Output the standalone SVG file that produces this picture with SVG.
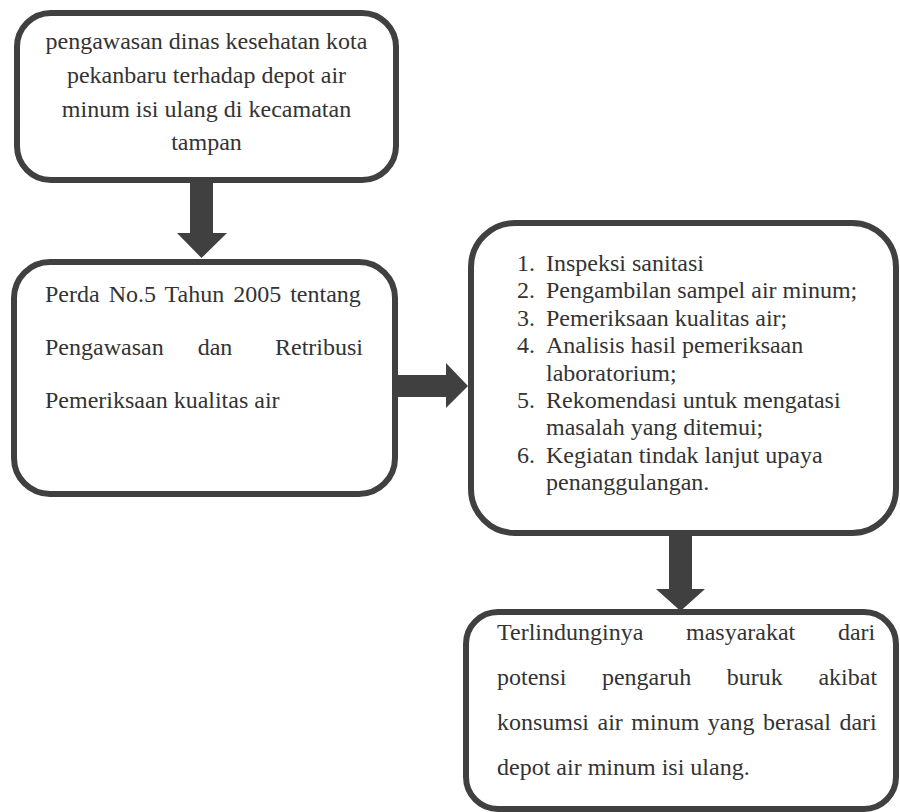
<svg xmlns="http://www.w3.org/2000/svg" width="900" height="812" viewBox="0 0 900 812">
<defs>
<style>
.box{fill:#ffffff;stroke:#404040;stroke-width:6}
.arrow{fill:#404040}
</style>
</defs>
<rect width="900" height="812" fill="#ffffff"/>
<g id="connectors">
<polygon class="arrow" points="190,182 213,182 213,233 227,233 201.5,258 177,233 190,233"/>
<polygon class="arrow" points="397,375 446,375 446,363 468,386 446,408 446,397 397,397"/>
<polygon class="arrow" points="669,534 692,534 692,589 705,589 680.5,611 656,589 669,589"/>
</g>
<g id="node1">
<rect class="box" x="17" y="13" width="379" height="167" rx="34"/>
<text x="206.5" y="49" font-family="Times New Roman, Liberation Serif, serif" font-size="24" fill="#333333" text-anchor="middle">pengawasan dinas kesehatan kota</text>
<text x="206.5" y="83" font-family="Times New Roman, Liberation Serif, serif" font-size="24" fill="#333333" text-anchor="middle">pekanbaru terhadap depot air</text>
<text x="206.5" y="117" font-family="Times New Roman, Liberation Serif, serif" font-size="24" fill="#333333" text-anchor="middle">minum isi ulang di kecamatan</text>
<text x="206.5" y="150" font-family="Times New Roman, Liberation Serif, serif" font-size="24" fill="#333333" text-anchor="middle">tampan</text>
</g>
<g id="node2">
<rect class="box" x="14" y="262" width="381" height="232" rx="36"/>
<text x="45" y="302" font-family="Times New Roman, Liberation Serif, serif" font-size="24" fill="#333333" word-spacing="3">Perda No.5 Tahun 2005 tentang</text>
<text x="45" y="355" font-family="Times New Roman, Liberation Serif, serif" font-size="24" fill="#333333">Pengawasan</text>
<text x="215" y="355" font-family="Times New Roman, Liberation Serif, serif" font-size="24" fill="#333333" text-anchor="middle">dan</text>
<text x="363" y="355" font-family="Times New Roman, Liberation Serif, serif" font-size="24" fill="#333333" text-anchor="end">Retribusi</text>
<text x="45" y="408" font-family="Times New Roman, Liberation Serif, serif" font-size="24" fill="#333333">Pemeriksaan kualitas air</text>
</g>
<g id="node3">
<rect class="box" x="471" y="223" width="425" height="310" rx="44"/>
<text x="517" y="271" font-family="Times New Roman, Liberation Serif, serif" font-size="24" fill="#333333">1.</text>
<text x="546" y="271" font-family="Times New Roman, Liberation Serif, serif" font-size="24" fill="#333333">Inspeksi sanitasi</text>
<text x="517" y="298.4" font-family="Times New Roman, Liberation Serif, serif" font-size="24" fill="#333333">2.</text>
<text x="546" y="298.4" font-family="Times New Roman, Liberation Serif, serif" font-size="24" fill="#333333">Pengambilan sampel air minum;</text>
<text x="517" y="325.8" font-family="Times New Roman, Liberation Serif, serif" font-size="24" fill="#333333">3.</text>
<text x="546" y="325.8" font-family="Times New Roman, Liberation Serif, serif" font-size="24" fill="#333333">Pemeriksaan kualitas air;</text>
<text x="517" y="353.2" font-family="Times New Roman, Liberation Serif, serif" font-size="24" fill="#333333">4.</text>
<text x="546" y="353.2" font-family="Times New Roman, Liberation Serif, serif" font-size="24" fill="#333333">Analisis hasil pemeriksaan</text>
<text x="546" y="380.6" font-family="Times New Roman, Liberation Serif, serif" font-size="24" fill="#333333">laboratorium;</text>
<text x="517" y="408" font-family="Times New Roman, Liberation Serif, serif" font-size="24" fill="#333333">5.</text>
<text x="546" y="408" font-family="Times New Roman, Liberation Serif, serif" font-size="24" fill="#333333">Rekomendasi untuk mengatasi</text>
<text x="546" y="435.4" font-family="Times New Roman, Liberation Serif, serif" font-size="24" fill="#333333">masalah yang ditemui;</text>
<text x="517" y="462.8" font-family="Times New Roman, Liberation Serif, serif" font-size="24" fill="#333333">6.</text>
<text x="546" y="462.8" font-family="Times New Roman, Liberation Serif, serif" font-size="24" fill="#333333">Kegiatan tindak lanjut upaya</text>
<text x="546" y="490.2" font-family="Times New Roman, Liberation Serif, serif" font-size="24" fill="#333333">penanggulangan.</text>
</g>
<g id="node4">
<rect class="box" x="466" y="612" width="430" height="197" rx="32"/>
<text x="497" y="640" font-family="Times New Roman, Liberation Serif, serif" font-size="24" fill="#333333" word-spacing="36.7">Terlindunginya masyarakat dari</text>
<text x="497" y="685" font-family="Times New Roman, Liberation Serif, serif" font-size="24" fill="#333333" word-spacing="29.6">potensi pengaruh buruk akibat</text>
<text x="497" y="730" font-family="Times New Roman, Liberation Serif, serif" font-size="24" fill="#333333" word-spacing="2.5">konsumsi air minum yang berasal dari</text>
<text x="497" y="775" font-family="Times New Roman, Liberation Serif, serif" font-size="24" fill="#333333">depot air minum isi ulang.</text>
</g>
</svg>
